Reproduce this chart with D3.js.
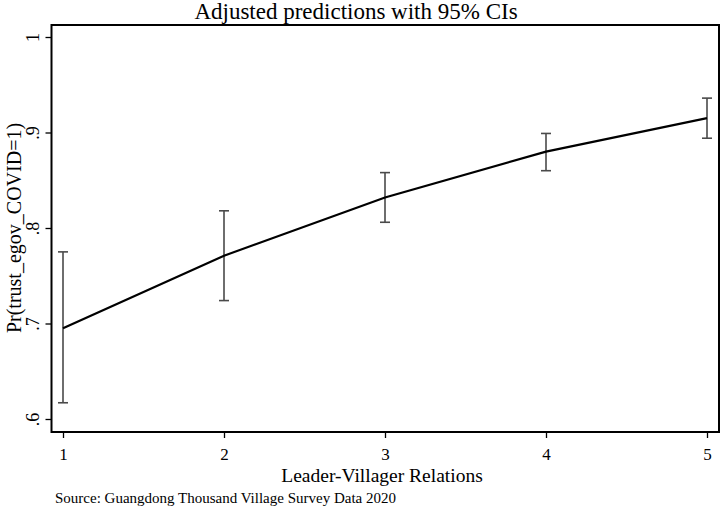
<!DOCTYPE html>
<html><head><meta charset="utf-8">
<script src="https://cdn.jsdelivr.net/npm/d3@7"></script>
<style>body{margin:0;background:#fff}svg{display:block}text{font-family:"Liberation Serif","Times New Roman",serif;fill:#000}</style>
</head><body><svg id="c" width="720" height="507"></svg>
<script>
const categories = [1, 2, 3, 4, 5];
const predicted = [0.695, 0.771, 0.832, 0.880, 0.915];
const ciLower = [0.617, 0.724, 0.806, 0.860, 0.894];
const ciUpper = [0.775, 0.818, 0.858, 0.899, 0.936];
const yTicks = [0.6, 0.7, 0.8, 0.9, 1];
const yTickLabels = [".6", ".7", ".8", ".9", "1"];
const title = "Adjusted predictions with 95% CIs";
const xTitle = "Leader-Villager Relations";
const yTitle = "Pr(trust_egov_COVID=1)";
const note = "Source: Guangdong Thousand Village Survey Data 2020";

const svg = d3.select("#c");
const frame = {l: 51.5, t: 25, r: 719, b: 432};
const x = d3.scaleLinear().domain([1, 5]).range([63, 707]);
const y = d3.scaleLinear().domain([0.6, 1]).range([419, 37]);

svg.append("rect").attr("x", frame.l).attr("y", frame.t)
  .attr("width", frame.r - frame.l).attr("height", frame.b - frame.t)
  .attr("fill", "none").attr("stroke", "#000").attr("stroke-width", 2);

// y axis ticks
const yAx = svg.append("g").attr("transform", `translate(${frame.l},0)`)
  .call(d3.axisLeft(y).tickValues(yTicks).tickSize(6).tickFormat((d, i) => yTickLabels[i]));
yAx.select(".domain").remove();
yAx.selectAll("line").attr("stroke", "#000").attr("stroke-width", 1.3);
yAx.selectAll("text").attr("x", null).attr("dy", null)
  .attr("transform", "translate(-13,0) rotate(-90)")
  .attr("text-anchor", "middle").attr("font-size", 18)
  .attr("font-family", "Liberation Serif").attr("y", 0);

// x axis
const xAx = svg.append("g").attr("transform", `translate(0,${frame.b})`)
  .call(d3.axisBottom(x).tickValues(categories).tickSize(6).tickFormat(d3.format("d")));
xAx.select(".domain").remove();
xAx.selectAll("line").attr("stroke", "#000").attr("stroke-width", 1.3);
xAx.selectAll("text").attr("y", 28).attr("dy", null).attr("font-size", 17)
  .attr("font-family", "Liberation Serif");

// error bars
const eb = svg.append("g").attr("stroke", "#4a4a4a").attr("stroke-width", 1.6).attr("fill", "none");
categories.forEach((c, i) => {
  const cx = x(c);
  eb.append("line").attr("x1", cx).attr("x2", cx).attr("y1", y(ciLower[i])).attr("y2", y(ciUpper[i]));
  eb.append("line").attr("x1", cx - 5).attr("x2", cx + 5).attr("y1", y(ciLower[i])).attr("y2", y(ciLower[i]));
  eb.append("line").attr("x1", cx - 5).attr("x2", cx + 5).attr("y1", y(ciUpper[i])).attr("y2", y(ciUpper[i]));
});

// prediction line
svg.append("path").datum(categories.map((c, i) => [c, predicted[i]]))
  .attr("fill", "none").attr("stroke", "#000").attr("stroke-width", 2.2)
  .attr("d", d3.line().x(d => x(d[0])).y(d => y(d[1])));

svg.append("text").attr("x", 356).attr("y", 19).attr("text-anchor", "middle")
  .attr("font-size", 23).text(title);
svg.append("text").attr("x", 382).attr("y", 482).attr("text-anchor", "middle")
  .attr("font-size", 19.5).text(xTitle);
svg.append("text").attr("transform", "translate(21,228) rotate(-90)").attr("text-anchor", "middle")
  .attr("font-size", 20).text(yTitle);
svg.append("text").attr("x", 55).attr("y", 503).attr("font-size", 15).text(note);
</script></body></html>
